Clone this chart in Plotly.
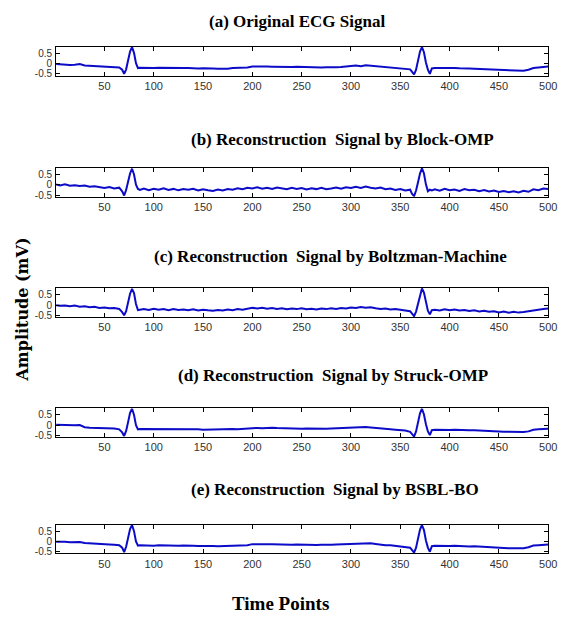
import plotly.graph_objects as go

# ---- data ----
x_points = ([1] + list(range(5, 66, 5)) + list(range(68, 87, 2)) + list(range(90, 356, 5))
            + list(range(360, 383, 2)) + list(range(385, 501, 5)))

titles = [
    "(a) Original ECG Signal",
    "(b) Reconstruction  Signal by Block-OMP",
    "(c) Reconstruction  Signal by Boltzman-Machine",
    "(d) Reconstruction  Signal by Struck-OMP",
    "(e) Reconstruction  Signal by BSBL-BO",
]

sig_a = ([-0.02, -0.04, -0.05, -0.07, -0.06, -0.02, -0.09, -0.10, -0.12, -0.13, -0.15, -0.14, -0.17, -0.19]
         + [-0.30, -0.50, -0.28, 0.12, 0.58, 0.80, 0.52, 0.02, -0.22, -0.20]
         + [-0.21, -0.19, -0.22, -0.20, -0.21, -0.19, -0.22, -0.21, -0.22, -0.21, -0.23, -0.24, -0.23, -0.25,
            -0.24, -0.25, -0.26, -0.25, -0.22, -0.21, -0.20, -0.19, -0.14, -0.13, -0.15, -0.14, -0.15, -0.16,
            -0.15, -0.16, -0.17, -0.16, -0.17, -0.18, -0.17, -0.18, -0.19, -0.18, -0.19, -0.18, -0.17, -0.16,
            -0.12, -0.10, -0.13, -0.08, -0.10, -0.12, -0.16, -0.18, -0.20, -0.21, -0.23, -0.25]
         + [-0.28, -0.40, -0.53, -0.30, 0.10, 0.58, 0.80, 0.55, 0.05, -0.30, -0.50, -0.24]
         + [-0.22, -0.21, -0.23, -0.22, -0.21, -0.23, -0.22, -0.24, -0.25, -0.26, -0.27, -0.28, -0.30, -0.31,
            -0.33, -0.34, -0.35, -0.34, -0.35, -0.30, -0.22, -0.19, -0.17, -0.14])

sig_b = ([0.01, -0.03, 0.02, -0.05, -0.02, -0.06, -0.04, -0.10, -0.07, -0.12, -0.15, -0.11, -0.18, -0.14]
         + [-0.32, -0.52, -0.25, 0.15, 0.55, 0.78, 0.50, 0.00, -0.20, -0.25]
         + [-0.18, -0.26, -0.19, -0.24, -0.17, -0.25, -0.20, -0.27, -0.21, -0.24, -0.19, -0.28, -0.22, -0.27,
            -0.30, -0.23, -0.28, -0.21, -0.24, -0.17, -0.22, -0.15, -0.18, -0.12, -0.19, -0.14, -0.20, -0.13,
            -0.18, -0.22, -0.15, -0.20, -0.16, -0.23, -0.17, -0.21, -0.15, -0.22, -0.18, -0.13, -0.19, -0.12,
            -0.16, -0.10, -0.15, -0.09, -0.14, -0.18, -0.13, -0.22, -0.18, -0.25, -0.21, -0.28]
         + [-0.24, -0.45, -0.55, -0.28, 0.12, 0.55, 0.80, 0.55, 0.02, -0.32, -0.24, -0.27]
         + [-0.22, -0.29, -0.20, -0.26, -0.23, -0.30, -0.21, -0.27, -0.24, -0.31, -0.26, -0.33, -0.28, -0.35,
            -0.30, -0.36, -0.31, -0.37, -0.29, -0.34, -0.22, -0.26, -0.18, -0.20])

sig_c = ([-0.01, -0.04, -0.02, -0.06, -0.03, -0.08, -0.06, -0.11, -0.09, -0.14, -0.12, -0.16, -0.15, -0.19]
         + [-0.35, -0.50, -0.30, 0.10, 0.55, 0.78, 0.58, 0.05, -0.25, -0.23]
         + [-0.20, -0.24, -0.18, -0.23, -0.20, -0.25, -0.19, -0.24, -0.22, -0.26, -0.21, -0.27, -0.23, -0.26,
            -0.28, -0.24, -0.27, -0.22, -0.25, -0.20, -0.23, -0.18, -0.14, -0.17, -0.13, -0.18, -0.15, -0.19,
            -0.16, -0.21, -0.17, -0.20, -0.16, -0.21, -0.18, -0.22, -0.17, -0.20, -0.16, -0.19, -0.15, -0.17,
            -0.12, -0.15, -0.10, -0.13, -0.11, -0.16, -0.19, -0.17, -0.22, -0.20, -0.24, -0.26]
         + [-0.30, -0.42, -0.54, -0.32, 0.08, 0.52, 0.80, 0.60, 0.10, -0.28, -0.45, -0.25]
         + [-0.23, -0.27, -0.21, -0.25, -0.22, -0.27, -0.24, -0.29, -0.26, -0.31, -0.28, -0.33, -0.30, -0.36,
            -0.32, -0.38, -0.33, -0.37, -0.34, -0.30, -0.24, -0.21, -0.19, -0.17])

sig_d = ([0.02, 0.01, 0.02, 0.01, 0.00, 0.01, -0.10, -0.12, -0.13, -0.12, -0.14, -0.15, -0.16, -0.20]
         + [-0.35, -0.52, -0.28, 0.15, 0.60, 0.80, 0.50, 0.00, -0.20, -0.18]
         + [-0.18, -0.20, -0.19, -0.18, -0.20, -0.19, -0.20, -0.19, -0.21, -0.20, -0.21, -0.20, -0.22, -0.21,
            -0.20, -0.21, -0.20, -0.19, -0.18, -0.19, -0.17, -0.16, -0.14, -0.13, -0.15, -0.13, -0.12, -0.14,
            -0.15, -0.14, -0.16, -0.15, -0.17, -0.16, -0.17, -0.16, -0.18, -0.17, -0.16, -0.15, -0.14, -0.13,
            -0.11, -0.10, -0.12, -0.09, -0.11, -0.14, -0.17, -0.19, -0.20, -0.22, -0.24, -0.26]
         + [-0.32, -0.45, -0.55, -0.30, 0.10, 0.58, 0.80, 0.52, 0.05, -0.30, -0.48, -0.24]
         + [-0.22, -0.23, -0.21, -0.23, -0.22, -0.24, -0.23, -0.25, -0.24, -0.26, -0.27, -0.28, -0.30, -0.31,
            -0.32, -0.33, -0.34, -0.35, -0.33, -0.30, -0.22, -0.20, -0.19, -0.17])

sig_e = ([-0.01, -0.03, -0.02, -0.04, -0.05, -0.03, -0.08, -0.10, -0.11, -0.13, -0.14, -0.15, -0.16, -0.18]
         + [-0.30, -0.52, -0.26, 0.15, 0.60, 0.80, 0.50, 0.00, -0.20, -0.19]
         + [-0.20, -0.18, -0.21, -0.19, -0.20, -0.21, -0.19, -0.21, -0.20, -0.22, -0.21, -0.22, -0.21, -0.23,
            -0.22, -0.23, -0.22, -0.21, -0.20, -0.21, -0.19, -0.18, -0.13, -0.12, -0.14, -0.13, -0.14, -0.15,
            -0.14, -0.15, -0.16, -0.15, -0.16, -0.17, -0.16, -0.17, -0.16, -0.17, -0.16, -0.15, -0.14, -0.13,
            -0.10, -0.09, -0.11, -0.08, -0.09, -0.12, -0.16, -0.18, -0.19, -0.21, -0.23, -0.25]
         + [-0.30, -0.42, -0.54, -0.30, 0.12, 0.58, 0.80, 0.55, 0.05, -0.30, -0.50, -0.23]
         + [-0.21, -0.22, -0.20, -0.22, -0.21, -0.23, -0.22, -0.24, -0.23, -0.25, -0.26, -0.27, -0.29, -0.30,
            -0.32, -0.33, -0.34, -0.35, -0.33, -0.28, -0.20, -0.18, -0.17, -0.15])

signals = [sig_a, sig_b, sig_c, sig_d, sig_e]
x_ticks = [50, 100, 150, 200, 250, 300, 350, 400, 450, 500]
y_ticks = [-0.5, 0, 0.5]
y_tick_text = ["-0.5", "0", "0.5"]

# ---- layout ----
W, H = 570, 618
box_top = [47, 169, 290, 411, 528]
box_h = 29
box_left, box_right = 57, 557
title_y = [22, 140, 258, 378, 493]
title_cx = [302, 348, 336, 338, 340]

fig = go.Figure()
layout = dict(
    width=W, height=H, margin=dict(l=0, r=0, t=0, b=0),
    paper_bgcolor="white", plot_bgcolor="white", showlegend=False,
)
annotations = []
tick_font = dict(family="Liberation Sans Narrow, Arial Narrow, Liberation Sans, Arial", size=11, color="#333333")
ytick_font = dict(family="Liberation Sans Narrow, Arial Narrow, Liberation Sans, Arial", size=10, color="#333333")
for i, (sig, title) in enumerate(zip(signals, titles)):
    n = i + 1
    xa = "x" if n == 1 else f"x{n}"
    ya = "y" if n == 1 else f"y{n}"
    fig.add_trace(go.Scatter(x=x_points, y=sig, mode="lines",
                             line=dict(color="#0c0cc8", width=2),
                             xaxis=xa, yaxis=ya, hoverinfo="skip"))
    y0 = 1 - (box_top[i] + box_h) / H
    y1 = 1 - box_top[i] / H
    layout[f"xaxis{'' if n == 1 else n}"] = dict(
        domain=[box_left / W, box_right / W], anchor=ya, range=[1, 500],
        tickvals=x_ticks, ticks="inside", ticklen=4, tickcolor="black",
        showline=True, linecolor="black", linewidth=1, mirror="ticks",
        showgrid=False, zeroline=False, tickfont=tick_font,
    )
    layout[f"yaxis{'' if n == 1 else n}"] = dict(
        domain=[y0, y1], anchor=xa, range=[-0.58, 0.82],
        tickvals=y_ticks, ticktext=y_tick_text, ticks="inside", ticklen=4, tickcolor="black",
        showline=True, linecolor="black", linewidth=1, mirror="ticks",
        showgrid=False, zeroline=False, tickfont=ytick_font, ticklabelstandoff=1,
    )
    annotations.append(dict(
        text=f"<b>{title}</b>", x=title_cx[i] / W, y=1 - title_y[i] / H,
        xref="paper", yref="paper", xanchor="center", yanchor="middle", showarrow=False,
        font=dict(family="Liberation Serif, Times New Roman, serif", size=17, color="black"),
    ))

annotations.append(dict(
    text="<b>Amplitude (mV)</b>", x=23 / W, y=1 - 312 / H, xref="paper", yref="paper",
    xanchor="center", yanchor="middle", showarrow=False, textangle=-90,
    font=dict(family="DejaVu Serif, serif", size=16, color="black"),
))
annotations.append(dict(
    text="<b>Time Points</b>", x=285 / W, y=1 - 607 / H, xref="paper", yref="paper",
    xanchor="center", yanchor="middle", showarrow=False,
    font=dict(family="Liberation Serif, Times New Roman, serif", size=19, color="black"),
))
layout["annotations"] = annotations
fig.update_layout(**layout)
fig.write_html("out.html")
